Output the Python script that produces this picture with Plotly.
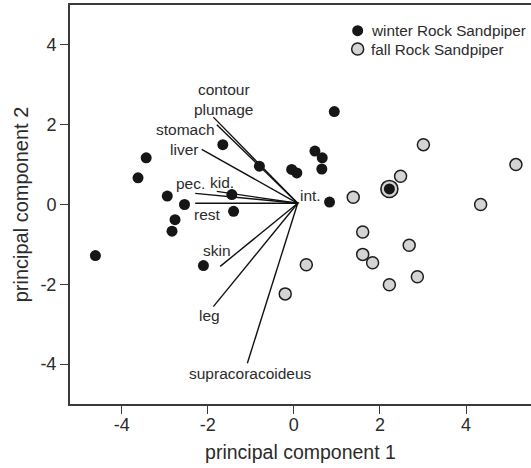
import plotly.graph_objects as go

# PCA scores for individual birds
winter_pc1 = [-4.61, -3.43, -3.62, -2.94, -2.54, -2.76, -2.83, -1.65, -0.80, -1.44,
              -1.40, -2.10, -0.05, 0.07, 0.94, 0.49, 0.66, 0.65, 0.83, 2.22]
winter_pc2 = [-1.28, 1.17, 0.67, 0.21, 0.00, -0.38, -0.67, 1.50, 0.96, 0.25,
              -0.17, -1.53, 0.88, 0.79, 2.33, 1.34, 1.17, 0.89, 0.06, 0.39]
fall_pc1 = [1.38, 2.48, 3.01, 5.16, 4.34, 1.60, 2.68, 1.60, 1.83, 2.87, 2.22, 0.29, -0.20]
fall_pc2 = [0.18, 0.71, 1.50, 1.00, 0.00, -0.69, -1.02, -1.25, -1.46, -1.81, -2.01, -1.51, -2.24]
# fall individual overlapping a winter bird, drawn as a ring
ringed_pc1 = [2.22]
ringed_pc2 = [0.39]

# Loading vectors (tissue masses)
loading_names = ["contour<br>plumage", "stomach", "liver", "kid.", "pec.", "rest",
                 "skin", "leg", "supracoracoideus", "int."]
loading_pc1 = [-1.87, -1.79, -2.14, -1.79, -2.29, -2.29, -1.71, -1.87, -1.08, 0.12]
loading_pc2 = [2.19, 2.00, 1.38, 0.33, 0.28, 0.03, -1.55, -2.56, -3.98, 0.05]
origin = (0.09, 0.03)

tick_vals = [-4, -2, 0, 2, 4]
tick_text = ["-4", "-2", "0", "2", "4"]

# label placement for each loading (x, y, xanchor)
label_pos = [(-1.64, 2.63, "center"), (-2.51, 1.88, "center"), (-2.55, 1.38, "center"),
             (-1.67, 0.56, "center"), (-2.39, 0.52, "center"), (-2.01, -0.26, "center"),
             (-1.79, -1.15, "center"), (-1.96, -2.78, "center"), (-1.00, -4.23, "center"),
             (0.10, 0.23, "left")]

FONT = "Liberation Sans, Arial, sans-serif"
TXT = "#2b2b2b"
AX = "#3a3a3a"
WINTER = "#161616"
FALL = "#d4d4d4"
EDGE = "#1e1e1e"

fig = go.Figure()

fig.add_trace(go.Scatter(
    x=ringed_pc1, y=ringed_pc2, mode="markers", showlegend=False, hoverinfo="skip",
    marker=dict(size=17, color=FALL, line=dict(color=EDGE, width=1.6))))

fig.add_trace(go.Scatter(
    x=fall_pc1, y=fall_pc2, mode="markers", name="fall Rock Sandpiper", showlegend=False,
    marker=dict(size=12, color=FALL, line=dict(color=EDGE, width=1.5))))

vx, vy = [], []
for lx, ly in zip(loading_pc1, loading_pc2):
    vx += [origin[0], lx, None]
    vy += [origin[1], ly, None]
fig.add_trace(go.Scatter(x=vx, y=vy, mode="lines", showlegend=False, hoverinfo="skip",
                         line=dict(color="#111111", width=1.4)))

fig.add_trace(go.Scatter(
    x=winter_pc1, y=winter_pc2, mode="markers", name="winter Rock Sandpiper", showlegend=False,
    marker=dict(size=11, color=WINTER, line=dict(width=0))))

for name, (px, py, xa) in zip(loading_names, label_pos):
    fig.add_annotation(x=px, y=py, text=name, showarrow=False, xanchor=xa, yanchor="middle",
                       font=dict(family=FONT, size=15.5, color=TXT))

# key in the upper-right corner
key = [("winter Rock Sandpiper", 0.9356, WINTER, 0, 11),
       ("fall Rock Sandpiper", 0.8897, FALL, 1.5, 12)]
for label, ky, fill, lw, sz in key:
    half = sz / 2
    fig.add_shape(type="circle", xref="paper", yref="paper", xsizemode="pixel",
                  ysizemode="pixel", xanchor=0.624, yanchor=ky,
                  x0=-half, x1=half, y0=-half, y1=half,
                  fillcolor=fill, line=dict(color=EDGE, width=lw))
    fig.add_annotation(xref="paper", yref="paper", x=0.649, y=ky, text=label,
                       showarrow=False, xanchor="left", yanchor="middle",
                       font=dict(family=FONT, size=15.3, color=TXT))

fig.update_layout(
    width=531, height=468,
    margin=dict(l=70, r=0, t=5, b=64),
    paper_bgcolor="white", plot_bgcolor="white",
    font=dict(family=FONT, color=TXT),
    showlegend=False,
    xaxis=dict(range=[-5.2, 5.51], tickvals=tick_vals, ticktext=tick_text, ticks="outside",
               ticklen=8, tickcolor=AX, tickwidth=1.3, showline=True, linecolor=AX,
               linewidth=2, mirror=True, showgrid=False, zeroline=False,
               ticklabelstandoff=-5,
               tickfont=dict(family=FONT, size=18, color=TXT),
               title=dict(text="principal component 1", standoff=12,
                          font=dict(family=FONT, size=19.5, color=TXT))),
    yaxis=dict(range=[-5, 5], tickvals=tick_vals, ticktext=tick_text, ticks="outside",
               ticklen=8, tickcolor=AX, tickwidth=1.3, showline=True, linecolor=AX,
               linewidth=2, showgrid=False, zeroline=False,
               tickfont=dict(family=FONT, size=18, color=TXT),
               title=dict(text="principal component 2", standoff=6,
                          font=dict(family=FONT, size=20, color=TXT))),
)

fig.write_html("out.html")
